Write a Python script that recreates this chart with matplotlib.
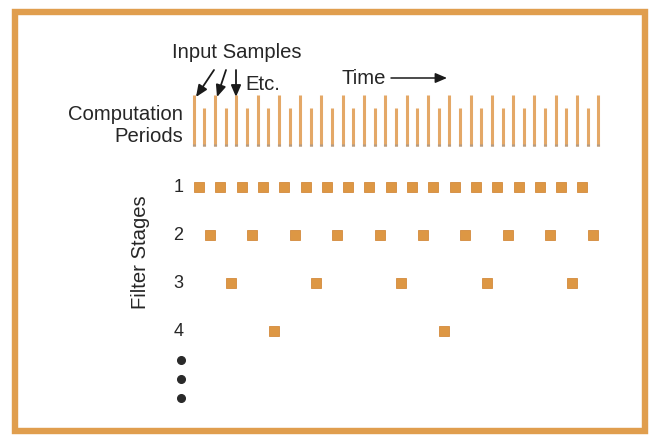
import numpy as np
import matplotlib.pyplot as plt
from matplotlib.patches import Rectangle

# computation periods: bars every half sample period, tall ones on input samples
bar_times = [-0.25 + 0.5 * i for i in range(39)]
bar_tall = [i % 2 == 0 for i in range(39)]

# filter stages: time (in sample periods) at which each stage computes
stage_names = ['1', '2', '3', '4']
stage1 = [float(k) for k in range(19)]
stage2 = [0.5 + 2 * k for k in range(10)]
stage3 = [1.5 + 4 * k for k in range(5)]
stage4 = [3.5, 11.5]
stages = [stage1, stage2, stage3, stage4]

orange = '#DD9744'
bar_col = '#E4A867'
frame_col = '#E09E4E'

fig = plt.figure(figsize=(6.5, 4.37), dpi=100)
fig.patch.set_facecolor('white')

# pixel-style overlay for frame and annotations
ov = fig.add_axes([0, 0, 1, 1])
ov.set_xlim(0, 650)
ov.set_ylim(437, 0)
ov.axis('off')
ov.add_patch(Rectangle((14.5, 12), 630.5, 419, fill=False, ec=frame_col, lw=4.6))

# data axes: x in sample periods, y in stage number
ax = fig.add_axes([0, 0, 1, 1], facecolor='none')
px = 21.3
x0 = 199
ax.set_xlim(-x0 / px, (650 - x0) / px)
ax.set_ylim((437 - 139) / 48, -139 / 48)
ax.axis('off')

font = dict(family='Liberation Sans', color='#262626')

tall_top, short_top, bar_bot = -0.917, -0.646, 0.146
for t, tall in zip(bar_times, bar_tall):
    top = tall_top if tall else short_top
    ax.plot([t, t], [top, bar_bot], color=bar_col, lw=2.2, solid_capstyle='butt')
    ax.plot([t, t], [bar_bot - 0.04, bar_bot], color='#B39C86', lw=2.2, solid_capstyle='butt')

for s, (name, times) in enumerate(zip(stage_names, stages), start=1):
    ax.plot(times, [s] * len(times), 's', color=orange, ms=7.2, mec='#D38A3C', mew=0.6)
    ax.text(-0.98, s, name, ha='center', va='center', fontsize=13, **font)

for k in range(3):
    ax.plot(-0.85, 4.6 + 0.4 * k, 'o', color='#2a2a2a', ms=5.5)

ov.text(237, 52, 'Input Samples', ha='center', va='center', fontsize=14.6, **font)
ov.text(245, 84, 'Etc.', ha='left', va='center', fontsize=14.6, **font)
ov.text(342, 78, 'Time', ha='left', va='center', fontsize=14.6, **font)
ov.text(183, 115, 'Computation', ha='right', va='center', fontsize=14.6, **font)
ov.text(183, 136, 'Periods', ha='right', va='center', fontsize=14.6, **font)
ov.text(140, 252, 'Filter Stages', ha='center', va='center', rotation=90, fontsize=14.6, **font)

arr = dict(arrowstyle='-|>,head_length=0.7,head_width=0.3', color='#1a1a1a', lw=1.3, shrinkA=0, shrinkB=0)
ov.annotate('', xy=(196, 97), xytext=(214, 70), arrowprops=arr)
ov.annotate('', xy=(217, 97), xytext=(226, 70), arrowprops=arr)
ov.annotate('', xy=(236, 97), xytext=(236, 70), arrowprops=arr)
ov.annotate('', xy=(447, 78), xytext=(391, 78), arrowprops=dict(arr, lw=1.1))

fig.savefig('out.png', dpi=100)
